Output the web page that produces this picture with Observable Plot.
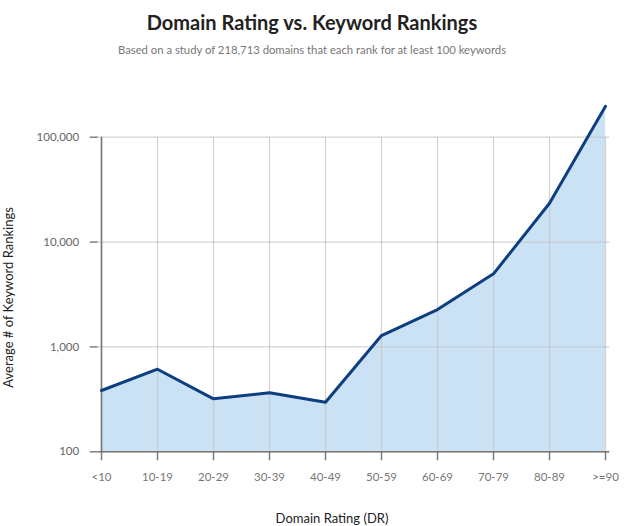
<!DOCTYPE html>
<html>
<head>
<meta charset="utf-8">
<script src="https://cdn.jsdelivr.net/npm/d3@7"></script>
<script src="https://cdn.jsdelivr.net/npm/@observablehq/plot@0.6"></script>
<style>
  body { margin: 0; background: #fff; font-family: Lato, "Open Sans", sans-serif; width: 624px; overflow: hidden; }
  #title { height: 38px; line-height: 44px; text-align: center; font-size: 20px; font-weight: bold; color: #222; }
  #subtitle { height: 26px; line-height: 24px; text-align: center; font-size: 11.3px; color: #777; }
  svg { display: block; }
</style>
</head>
<body>
<div id="title">Domain Rating vs. Keyword Rankings</div>
<div id="subtitle">Based on a study of 218,713 domains that each rank for at least 100 keywords</div>
<div id="chart"></div>
<script>
const categories = ["<10", "10-19", "20-29", "30-39", "40-49", "50-59", "60-69", "70-79", "80-89", ">=90"];
const values = [384, 613, 320, 365, 297, 1284, 2274, 4977, 23440, 197000];
const yTicks = [100, 1000, 10000, 100000];

const data = categories.map((c, i) => ({dr: c, v: values[i]}));

const chart = Plot.plot({
  width: 624,
  height: 462,
  marginTop: 72.7,
  marginBottom: 74.7,
  marginLeft: 97.7,
  marginRight: 14.7,
  style: {fontFamily: "Lato, 'Open Sans', sans-serif", background: "#fff"},
  x: {type: "point", domain: categories, padding: 0, label: null},
  y: {type: "log", domain: [100, 100000], label: null},
  marks: [
    Plot.areaY(data, {x: "dr", y1: 100, y2: "v", fill: "#cbe2f5", clip: false}),
    Plot.gridY(yTicks, {stroke: "#c4c4c4", strokeOpacity: 0.75, strokeWidth: 1.2}),
    Plot.gridX(categories, {stroke: "#c4c4c4", strokeOpacity: 0.75, strokeWidth: 1.2}),
    Plot.axisY(yTicks, {
      tickFormat: d3.format(","), tickSize: 8, tickPadding: 11,
      fontSize: 11.5, fill: "#666", stroke: "#777", strokeWidth: 1.4
    }),
    Plot.axisX(categories, {
      tickSize: 9, tickPadding: 12, fontSize: 11.5, fill: "#777", stroke: "#777", strokeWidth: 1.4
    }),
    Plot.ruleX([categories[0]], {y1: 100, y2: 100000, stroke: "#777", strokeWidth: 1.6}),
    Plot.ruleY([100], {stroke: "#777", strokeWidth: 1.6}),
    Plot.lineY(data, {x: "dr", y: "v", stroke: "#0d3f80", strokeWidth: 3, clip: false}),
    Plot.text(["Domain Rating (DR)"], {frameAnchor: "bottom", dx: -22, dy: 67, fontSize: 13, fill: "#222", lineAnchor: "middle"}),
    Plot.text(["Average # of Keyword Rankings"], {frameAnchor: "left", dx: -89, dy: 3, rotate: -90, fontSize: 13, fill: "#222", textAnchor: "middle"})
  ]
});
document.getElementById("chart").appendChild(chart);
</script>
</body>
</html>
